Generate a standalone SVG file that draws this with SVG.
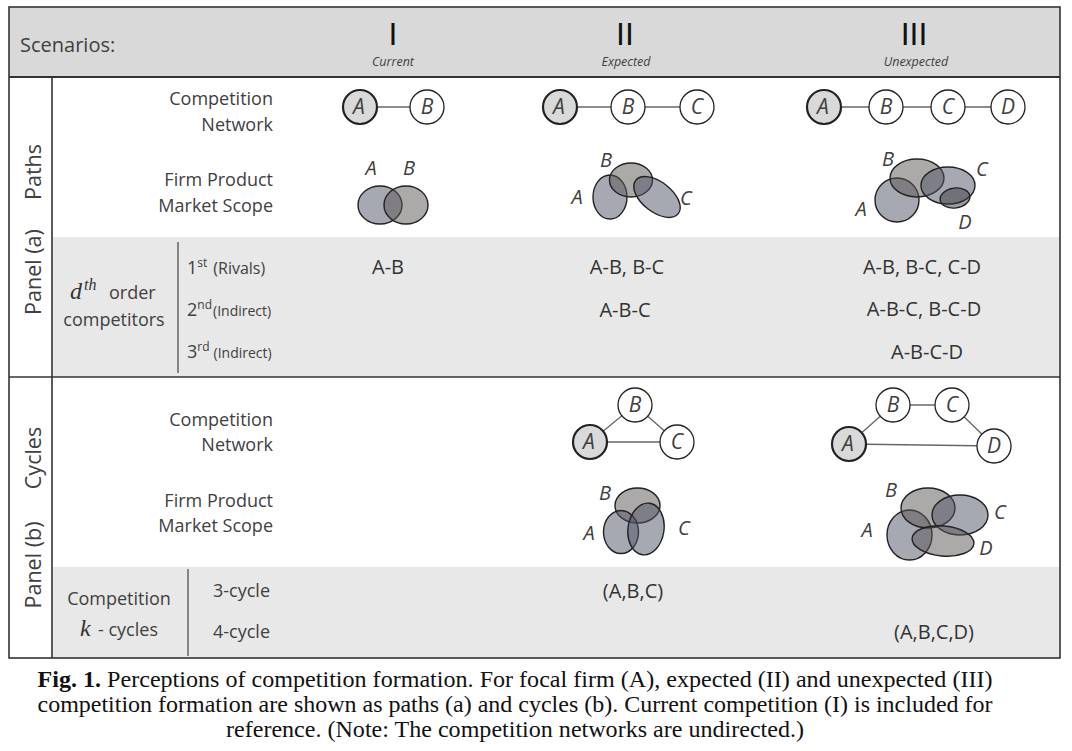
<svg xmlns="http://www.w3.org/2000/svg" width="1072" height="751" viewBox="0 0 1072 751">
<style>
.lbl{font-family:"Open Sans","Noto Sans",sans-serif;font-size:18px;fill:#404040}
.lblr{font-family:"Open Sans","Noto Sans",sans-serif;font-size:18px;fill:#404040;text-anchor:end}
.val{font-family:"Open Sans","Noto Sans",sans-serif;font-size:20px;fill:#333;text-anchor:middle}
.side{font-family:"Open Sans","Noto Sans",sans-serif;font-size:21.5px;fill:#404040;text-anchor:middle}
.num{font-family:"Liberation Sans",Arial,sans-serif;font-size:32px;fill:#111;text-anchor:middle}
.sub{font-family:"Open Sans","Noto Sans",sans-serif;font-size:12.5px;font-style:italic;fill:#404040;text-anchor:middle}
.nl{font-family:"Open Sans","Noto Sans",sans-serif;font-size:21px;font-style:italic;fill:#404040;text-anchor:middle}
.el{font-family:"Open Sans","Noto Sans",sans-serif;font-size:20px;font-style:italic;fill:#404040;text-anchor:middle}
.cap{font-family:"Liberation Serif","Times New Roman",serif;font-size:23px;fill:#111;text-anchor:middle}
.focal{fill:#d9d9d9;stroke:#222;stroke-width:2.2}
.node{fill:#fff;stroke:#222;stroke-width:1.3}
.edge{stroke:#666;stroke-width:1.3;fill:none}
.ea{fill:#4d5466;fill-opacity:.5;stroke:#222;stroke-width:1.4}
.eb{fill:#5a5454;fill-opacity:.5;stroke:#222;stroke-width:1.4}
.ed{fill:#3a3a40;fill-opacity:.5;stroke:#222;stroke-width:1.4}
.grid{stroke:#333;stroke-width:1.6;fill:none}
.thin{stroke:#444;stroke-width:1.2}
</style>

<!-- table background -->
<g id="table">
  <rect x="9" y="7" width="1051" height="70" fill="#d9d9d9"/>
  <rect x="52" y="237" width="1008" height="140" fill="#e8e8e8"/>
  <rect x="52" y="567" width="1008" height="91" fill="#e8e8e8"/>
  <rect x="9" y="7" width="1051" height="651" class="grid"/>
  <line x1="9" y1="77" x2="1060" y2="77" stroke="#333" stroke-width="2"/>
  <line x1="9" y1="377" x2="1060" y2="377" class="grid"/>
  <line x1="52" y1="77" x2="52" y2="658" class="grid"/>
  <line x1="178" y1="242" x2="178" y2="373" class="thin"/>
  <line x1="188" y1="569" x2="188" y2="656" class="thin"/>
</g>

<!-- header -->
<g id="header">
  <text x="20" y="52" class="lbl" style="font-size:20px">Scenarios:</text>
  <text x="393" y="45" class="num">I</text>
  <text x="393" y="65.5" class="sub">Current</text>
  <text x="625" y="45" class="num">II</text>
  <text x="626" y="65.5" class="sub">Expected</text>
  <text x="914" y="45" class="num">III</text>
  <text x="916" y="65.5" class="sub">Unexpected</text>
</g>

<!-- side labels -->
<g id="side-labels">
  <text transform="translate(41,172) rotate(-90)" class="side">Paths</text>
  <text transform="translate(41,272) rotate(-90)" class="side">Panel (a)</text>
  <text transform="translate(41,458) rotate(-90)" class="side">Cycles</text>
  <text transform="translate(41,565) rotate(-90)" class="side">Panel (b)</text>
</g>

<!-- row labels -->
<g id="row-labels">
  <text x="273" y="105" class="lblr">Competition</text>
  <text x="273" y="131" class="lblr">Network</text>
  <text x="273" y="186" class="lblr">Firm Product</text>
  <text x="273" y="212" class="lblr">Market Scope</text>
  <text x="273" y="426" class="lblr">Competition</text>
  <text x="273" y="451" class="lblr">Network</text>
  <text x="273" y="507" class="lblr">Firm Product</text>
  <text x="273" y="532" class="lblr">Market Scope</text>

  <text x="70" y="299" style="font-family:'Liberation Serif',serif;font-size:24px;font-style:italic;fill:#333">d</text>
  <text x="84" y="290" style="font-family:'Liberation Serif',serif;font-size:16px;font-style:italic;fill:#333">th</text>
  <text x="109" y="299" class="lbl">order</text>
  <text x="114" y="326" class="lbl" text-anchor="middle">competitors</text>

  <text x="187" y="274" class="lbl">1<tspan dy="-7" style="font-size:12px">st</tspan><tspan dy="7" dx="6" style="font-size:16px">(Rivals)</tspan></text>
  <text x="187" y="316" class="lbl">2<tspan dy="-7" style="font-size:12px">nd</tspan><tspan dy="7" dx="1" style="font-size:14px">(Indirect)</tspan></text>
  <text x="187" y="358" class="lbl">3<tspan dy="-7" style="font-size:12px">rd</tspan><tspan dy="7" dx="4" style="font-size:14px">(Indirect)</tspan></text>

  <text x="119" y="605" class="lbl" text-anchor="middle">Competition</text>
  <text x="80" y="636" style="font-family:'Liberation Serif',serif;font-size:24px;font-style:italic;fill:#333">k</text>
  <text x="98" y="636" class="lbl">- cycles</text>
  <text x="213" y="597" class="lbl">3-cycle</text>
  <text x="213" y="638" class="lbl">4-cycle</text>
</g>

<!-- values -->
<g id="values">
  <text x="388" y="274" class="val">A-B</text>
  <text x="627" y="274" class="val">A-B, B-C</text>
  <text x="625" y="317" class="val">A-B-C</text>
  <text x="922" y="274" class="val">A-B, B-C, C-D</text>
  <text x="924" y="316" class="val">A-B-C, B-C-D</text>
  <text x="927" y="359" class="val">A-B-C-D</text>
  <text x="633" y="598" class="val">(A,B,C)</text>
  <text x="934" y="639" class="val">(A,B,C,D)</text>
</g>

<!-- connectors -->
<g id="connectors">
  <line x1="360" y1="107" x2="427" y2="107" class="edge"/>
  <line x1="560" y1="107" x2="697" y2="107" class="edge"/>
  <line x1="824" y1="107" x2="1008" y2="107" class="edge"/>
  <line x1="590" y1="442" x2="635" y2="405" class="edge"/>
  <line x1="635" y1="405" x2="677" y2="442" class="edge"/>
  <line x1="590" y1="442" x2="677" y2="442" class="edge"/>
  <line x1="849" y1="444" x2="893" y2="405" class="edge"/>
  <line x1="893" y1="405" x2="952" y2="405" class="edge"/>
  <line x1="952" y1="405" x2="994" y2="446" class="edge"/>
  <line x1="849" y1="444" x2="994" y2="446" class="edge"/>
</g>

<!-- network nodes, panel (a) -->
<g id="a1-A"><circle cx="360" cy="107" r="17" class="focal"/><text x="359" y="114" class="nl">A</text></g>
<g id="a1-B"><circle cx="427" cy="107" r="17" class="node"/><text x="427" y="114" class="nl">B</text></g>
<g id="a2-A"><circle cx="560" cy="107" r="17" class="focal"/><text x="559" y="114" class="nl">A</text></g>
<g id="a2-B"><circle cx="628" cy="107" r="17" class="node"/><text x="628" y="114" class="nl">B</text></g>
<g id="a2-C"><circle cx="697" cy="107" r="17" class="node"/><text x="697" y="114" class="nl">C</text></g>
<g id="a3-A"><circle cx="824" cy="107" r="17" class="focal"/><text x="823" y="114" class="nl">A</text></g>
<g id="a3-B"><circle cx="886" cy="107" r="17" class="node"/><text x="886" y="114" class="nl">B</text></g>
<g id="a3-C"><circle cx="948" cy="107" r="17" class="node"/><text x="948" y="114" class="nl">C</text></g>
<g id="a3-D"><circle cx="1008" cy="107" r="17" class="node"/><text x="1008" y="114" class="nl">D</text></g>

<!-- network nodes, panel (b) -->
<g id="b2-B"><circle cx="635" cy="405" r="17" class="node"/><text x="635" y="412" class="nl">B</text></g>
<g id="b2-A"><circle cx="590" cy="442" r="17" class="focal"/><text x="589" y="449" class="nl">A</text></g>
<g id="b2-C"><circle cx="677" cy="442" r="17" class="node"/><text x="677" y="449" class="nl">C</text></g>
<g id="b3-B"><circle cx="893" cy="405" r="17" class="node"/><text x="893" y="412" class="nl">B</text></g>
<g id="b3-C"><circle cx="952" cy="405" r="17" class="node"/><text x="952" y="412" class="nl">C</text></g>
<g id="b3-A"><circle cx="849" cy="444" r="17" class="focal"/><text x="848" y="451" class="nl">A</text></g>
<g id="b3-D"><circle cx="994" cy="446" r="17" class="node"/><text x="994" y="453" class="nl">D</text></g>

<!-- market scope ellipses -->
<g id="scope-a1">
  <ellipse cx="380" cy="205" rx="22" ry="19" class="ea"/>
  <ellipse cx="406" cy="205" rx="22" ry="19" class="eb"/>
  <text x="371" y="175" class="el">A</text>
  <text x="409" y="175" class="el">B</text>
</g>
<g id="scope-a2">
  <ellipse cx="610" cy="197" rx="17" ry="22" class="ea"/>
  <ellipse cx="631" cy="180" rx="21.5" ry="17" class="eb"/>
  <ellipse cx="657" cy="197" rx="27" ry="15" transform="rotate(38 657 197)" class="ea"/>
  <text x="606" y="167" class="el">B</text>
  <text x="577" y="204" class="el">A</text>
  <text x="686" y="205" class="el">C</text>
</g>
<g id="scope-a3">
  <ellipse cx="897" cy="200" rx="22" ry="22" class="ea"/>
  <ellipse cx="917" cy="178" rx="27" ry="19" class="eb"/>
  <ellipse cx="948" cy="185.5" rx="27" ry="18.5" class="ea"/>
  <ellipse cx="955" cy="198" rx="15" ry="10" transform="rotate(-8 955 198)" class="ed"/>
  <text x="888" y="166" class="el">B</text>
  <text x="982" y="176" class="el">C</text>
  <text x="861" y="216" class="el">A</text>
  <text x="965" y="229" class="el">D</text>
</g>
<g id="scope-b2">
  <ellipse cx="637.5" cy="505.5" rx="22.5" ry="17.5" class="eb"/>
  <ellipse cx="621" cy="532" rx="17.5" ry="21.5" class="ea"/>
  <ellipse cx="646" cy="529" rx="18" ry="26" transform="rotate(8 646 529)" class="ea"/>
  <text x="605" y="500" class="el">B</text>
  <text x="589" y="540" class="el">A</text>
  <text x="684" y="535" class="el">C</text>
</g>
<g id="scope-b3">
  <ellipse cx="909.5" cy="535" rx="22.5" ry="25" class="ea"/>
  <ellipse cx="928" cy="508" rx="27" ry="20" class="eb"/>
  <ellipse cx="960" cy="515" rx="28" ry="20" class="ea"/>
  <ellipse cx="943" cy="541" rx="31" ry="15" transform="rotate(5 943 541)" class="eb"/>
  <text x="891" y="497" class="el">B</text>
  <text x="1000" y="519" class="el">C</text>
  <text x="867" y="537" class="el">A</text>
  <text x="986" y="555" class="el">D</text>
</g>

<!-- caption -->
<g id="caption">
  <text x="515" y="687" class="cap" textLength="955" lengthAdjust="spacingAndGlyphs"><tspan font-weight="bold">Fig. 1.</tspan>  Perceptions of competition formation. For focal firm (A), expected (II) and unexpected (III)</text>
  <text x="515" y="712" class="cap" textLength="955" lengthAdjust="spacingAndGlyphs">competition formation are shown as paths (a) and cycles (b). Current competition (I) is included for</text>
  <text x="515" y="737" class="cap" textLength="578" lengthAdjust="spacingAndGlyphs">reference. (Note: The competition networks are undirected.)</text>
</g>
</svg>
